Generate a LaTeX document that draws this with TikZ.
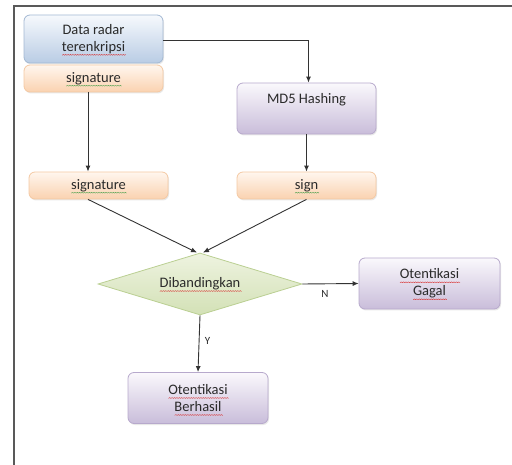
\documentclass[tikz,border=0pt]{standalone}
\usepackage{fontspec}
\setmainfont{Carlito}
\usepackage{tikz}
\usetikzlibrary{shapes.geometric,arrows.meta,shadows}

\definecolor{txt}{HTML}{2A2A2A}
\definecolor{bluetop}{HTML}{F6F9FD}
\definecolor{bluebot}{HTML}{B9CCE4}
\definecolor{blueline}{HTML}{A3B8D3}
\definecolor{orgtop}{HTML}{FFF6EE}
\definecolor{orgbot}{HTML}{FAD2B0}
\definecolor{orgline}{HTML}{F4C9A3}
\definecolor{purtop}{HTML}{FAF8FC}
\definecolor{purbot}{HTML}{C9BDDA}
\definecolor{purline}{HTML}{B7A9CC}
\definecolor{grntop}{HTML}{EEF3E0}
\definecolor{grnbot}{HTML}{D3E1B6}
\definecolor{grnline}{HTML}{BACF92}
\definecolor{spellred}{HTML}{D83030}
\definecolor{spellgrn}{HTML}{4CA04C}

% spell-check zigzag under a word
\newdimen\wavyw \newdimen\wavyx \newdimen\wavyy \newcount\wavyk
\newcommand{\wavy}[2]{\leavevmode\setbox0\hbox{#2}\wavyw=\wd0
  \rlap{\smash{\begin{pgfpicture}\pgfsetbaseline{0pt}%
    \pgfsetcornersarced{\pgfpointorigin}%
    \pgfsetlinewidth{0.4pt}\pgfsetstrokecolor{#1}\pgfsetdash{}{0pt}%
    \wavyx=0pt \wavyk=0 \pgfpathmoveto{\pgfqpoint{0pt}{-3.9pt}}%
    \loop \advance\wavyx by 1.2pt \advance\wavyk by 1
      \ifodd\wavyk \wavyy=-3.1pt \else \wavyy=-3.9pt \fi
      \pgfpathlineto{\pgfqpoint{\wavyx}{\wavyy}}%
    \ifdim\wavyx<\wavyw \repeat
    \pgfusepath{stroke}\end{pgfpicture}}}\box0}

\begin{document}
\begin{tikzpicture}[x=1pt,y=1pt,
    box/.style={rounded corners=6pt,draw,line width=0.8pt,text=txt,align=center,
      font=\fontsize{14.5}{17}\selectfont,inner sep=2pt,
      drop shadow={opacity=0.18,shadow xshift=1pt,shadow yshift=-1.5pt}},
    bluebox/.style={box,draw=blueline,top color=bluetop,bottom color=bluebot,
      minimum width=139pt,minimum height=48pt},
    orgbox/.style={box,draw=orgline,top color=orgtop,bottom color=orgbot,
      minimum width=139pt,minimum height=27pt},
    purbox/.style={box,draw=purline,top color=purtop,bottom color=purbot,
      minimum width=140pt,minimum height=51pt},
    decide/.style={diamond,draw=grnline,line width=0.8pt,top color=grntop,bottom color=grnbot,
      minimum width=204pt,minimum height=62pt,aspect=3.3,inner sep=0pt,text=txt,
      font=\fontsize{14.5}{17}\selectfont},
    conn/.style={draw=black!80,line width=0.9pt},
    >={Latex[length=6pt,width=5pt]}]

  \useasboundingbox (0,0) rectangle (512,-465);
  \draw[line width=1.6pt,black!65] (512,-6) -- (14,-6) -- (14,-465);

  \node[bluebox] (data) at (93.5,-39) {Data radar\\\wavy{spellred}{terenkripsi}};
  \node[orgbox] (sig1) at (93.5,-78.5) {\wavy{spellgrn}{signature}};
  \node[purbox,minimum width=139pt,text depth=20pt] (md5) at (306.5,-108.5) {MD5 Hashing};
  \node[orgbox] (sign) at (306.5,-185.5) {\wavy{spellgrn}{sign}};
  \node[orgbox] (sig2) at (98.5,-185.5) {\wavy{spellgrn}{signature}};
  \node[decide] (cmp) at (200,-284) {\raisebox{3pt}{\wavy{spellred}{Dibandingkan}}};
  \node[purbox,minimum width=141pt] (gagal) at (429.5,-283.5) {\wavy{spellred}{Otentikasi}\\\wavy{spellred}{Gagal}};
  \node[purbox] (berhasil) at (198,-398) {\wavy{spellred}{Otentikasi}\\\wavy{spellred}{Berhasil}};

  \draw[conn,->] ([yshift=-1pt]data.east) -| ([xshift=2pt]md5.north);
  \draw[conn,->] (md5.south) -- (sign.north);
  \draw[conn,->] ([xshift=-5.5pt]sig1.south) -- ([xshift=-5.5pt]sig1.south |- sig2.north);
  \draw[conn,->] ([xshift=-10.5pt]sig2.south) -- ([xshift=-3pt]cmp.north);
  \draw[conn,->] (sign.south) -- ([xshift=3pt]cmp.north);
  \draw[conn,->] (cmp.east) -- node[pos=0.4,below=3pt,font=\fontsize{11}{13}\selectfont,text=txt] (n) {N} (gagal.west);
  \draw[conn,->] (cmp.south) -- node[pos=0.45,right=2pt,font=\fontsize{11}{13}\selectfont,text=txt] (y) {Y} (berhasil.north);
\end{tikzpicture}
\end{document}
